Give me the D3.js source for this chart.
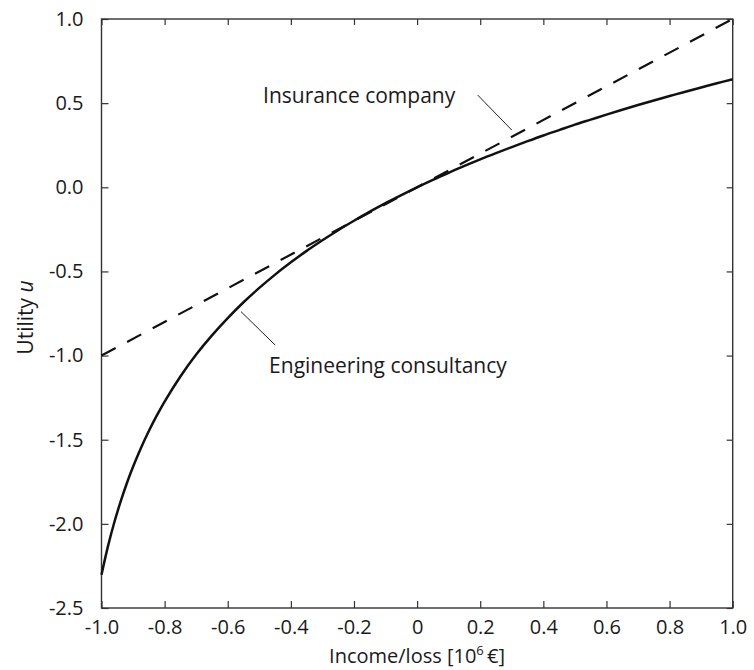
<!DOCTYPE html>
<html><head><meta charset="utf-8">
<script src="https://cdn.jsdelivr.net/npm/d3@7"></script>
<style>body{margin:0;background:#fff}svg{display:block}text{font-family:"Open Sans",sans-serif;fill:#1a1a1a}</style>
</head><body><svg id="c" width="754" height="670"></svg>
<script>
// Engineering consultancy utility curve
const incomeX = [-1.00,-0.98,-0.96,-0.94,-0.92,-0.90,-0.875,-0.85,-0.825,-0.80,-0.75,-0.70,-0.65,-0.60,-0.55,-0.50,-0.45,-0.40,-0.35,-0.30,-0.25,-0.20,-0.15,-0.10,-0.05,0.00,0.05,0.10,0.15,0.20,0.25,0.30,0.35,0.40,0.45,0.50,0.55,0.60,0.65,0.70,0.75,0.80,0.85,0.90,0.95,1.00];
const consultancyU = [-2.303,-2.137,-1.995,-1.871,-1.760,-1.661,-1.549,-1.448,-1.357,-1.273,-1.124,-0.994,-0.880,-0.777,-0.683,-0.598,-0.519,-0.446,-0.378,-0.315,-0.255,-0.199,-0.145,-0.094,-0.046,0.000,0.044,0.086,0.127,0.166,0.203,0.239,0.274,0.308,0.340,0.372,0.402,0.432,0.461,0.489,0.516,0.542,0.568,0.593,0.618,0.642];
// Insurance company (straight dashed line)
const insuranceX = [-1.0, 1.0];
const insuranceU = [-1.0, 1.0];
const xTicks = [-1.0,-0.8,-0.6,-0.4,-0.2,0,0.2,0.4,0.6,0.8,1.0];
const xTickLabels = ["-1.0","-0.8","-0.6","-0.4","-0.2","0","0.2","0.4","0.6","0.8","1.0"];
const yTicks = [1.0,0.5,0.0,-0.5,-1.0,-1.5,-2.0,-2.5];
const yTickLabels = ["1.0","0.5","0.0","-0.5","-1.0","-1.5","-2.0","-2.5"];
const annotations = [
  {text:"Insurance company", tx:-0.488, ty:0.501, lx1:0.192, ly1:0.548, lx2:0.300, ly2:0.340},
  {text:"Engineering consultancy", tx:-0.469, ty:-1.103, lx1:-0.558, ly1:-0.739, lx2:-0.450, ly2:-0.937}
];

const svg = d3.select("#c");
const L=101.5, R=732.7, T=19, B=608;
const x = d3.scaleLinear().domain([-1,1]).range([L,R]);
const y = d3.scaleLinear().domain([-2.5,1]).range([B,T]);
const axisColor="#333";

function styleAxis(g){
  g.select(".domain").remove();
  g.selectAll(".tick line").attr("stroke",axisColor).attr("stroke-width",1.2);
  g.selectAll(".tick text").style("font-size","20px").attr("fill","#1a1a1a");
}
// bottom
svg.append("g").attr("transform",`translate(0,${B})`)
  .call(d3.axisBottom(x).tickValues(xTicks).tickSizeInner(-7).tickSizeOuter(0).tickPadding(12)
    .tickFormat((d,i)=>xTickLabels[i]))
  .call(styleAxis).call(g=>g.selectAll(".tick text").attr("dy","0.71em"));
// top
svg.append("g").attr("transform",`translate(0,${T})`)
  .call(d3.axisTop(x).tickValues(xTicks).tickSizeInner(-6).tickSizeOuter(0).tickFormat(""))
  .call(styleAxis);
// left
svg.append("g").attr("transform",`translate(${L},0)`)
  .call(d3.axisLeft(y).tickValues(yTicks).tickSizeInner(-7).tickSizeOuter(0).tickPadding(18)
    .tickFormat((d,i)=>yTickLabels[i]))
  .call(styleAxis);
// right
svg.append("g").attr("transform",`translate(${R},0)`)
  .call(d3.axisRight(y).tickValues(yTicks).tickSizeInner(-6).tickSizeOuter(0).tickFormat(""))
  .call(styleAxis);
// frame
svg.append("rect").attr("x",L).attr("y",T).attr("width",R-L).attr("height",B-T)
  .attr("fill","none").attr("stroke",axisColor).attr("stroke-width",1.4);

const line = d3.line().x(d=>x(d[0])).y(d=>y(d[1]));
svg.append("path").datum(insuranceX.map((v,i)=>[v,insuranceU[i]]))
  .attr("d",line).attr("fill","none").attr("stroke","#111").attr("stroke-width",2.2)
  .attr("stroke-dasharray","16,13");
svg.append("path").datum(incomeX.map((v,i)=>[v,consultancyU[i]]))
  .attr("d",line.curve(d3.curveCatmullRom)).attr("fill","none").attr("stroke","#111").attr("stroke-width",2.5);

annotations.forEach(a=>{
  svg.append("line").attr("x1",x(a.lx1)).attr("y1",y(a.ly1)).attr("x2",x(a.lx2)).attr("y2",y(a.ly2))
    .attr("stroke","#222").attr("stroke-width",1);
  svg.append("text").attr("x",x(a.tx)).attr("y",y(a.ty)).style("font-size","21px").text(a.text);
});

// axis titles
const xt = svg.append("text").attr("x",(L+R)/2).attr("y",663).attr("text-anchor","middle").style("font-size","20px");
xt.append("tspan").text("Income/loss [10");
xt.append("tspan").attr("dy",-8).style("font-size","13px").text("6");
xt.append("tspan").attr("dy",8).text("\u2009€]");
const yt = svg.append("text").attr("transform",`translate(33,${(T+B)/2+4}) rotate(-90)`).attr("text-anchor","middle").style("font-size","21px");
yt.append("tspan").text("Utility ");
yt.append("tspan").style("font-style","italic").text("u");
</script></body></html>
